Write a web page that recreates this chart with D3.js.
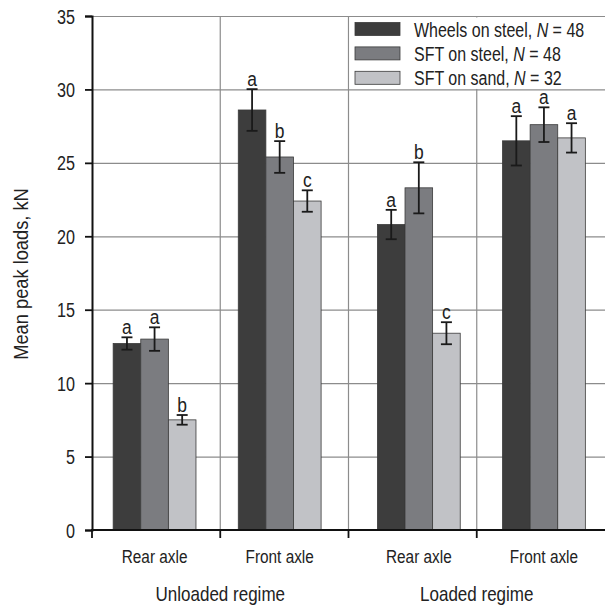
<!DOCTYPE html>
<html>
<head>
<meta charset="utf-8">
<script src="https://cdn.jsdelivr.net/npm/d3@7"></script>
<style>
  html, body { margin: 0; padding: 0; background: #fff; }
  svg { display: block; }
</style>
</head>
<body>
<svg id="chart" width="605" height="606"></svg>
<script>
// ---------------- data ----------------
const regimes = ["Unloaded regime", "Loaded regime"];
const axles = ["Rear axle", "Front axle"];
const seriesNames = ["Wheels on steel", "SFT on steel", "SFT on sand"];
const seriesN = [48, 48, 32];
// values in order: Unloaded rear, Unloaded front, Loaded rear, Loaded front
const wheelsSteel = [12.7, 28.6, 20.8, 26.5];
const sftSteel    = [13.0, 25.4, 23.3, 27.6];
const sftSand     = [7.5, 22.4, 13.4, 26.7];
const wheelsSteelErr = [0.42, 1.42, 1.0, 1.68];
const sftSteelErr    = [0.8, 1.08, 1.74, 1.18];
const sftSandErr     = [0.33, 0.73, 0.75, 1.0];
const wheelsSteelLetters = ["a", "a", "a", "a"];
const sftSteelLetters    = ["a", "b", "b", "a"];
const sftSandLetters     = ["b", "c", "c", "a"];
const yTicks = [0, 5, 10, 15, 20, 25, 30, 35];

// ---------------- build ----------------
const FONT = "'Liberation Sans', Arial, Helvetica, sans-serif";
const NARROW = 0.83;
const colors = ["#3d3d3d", "#7b7c80", "#c1c2c6"];
const svg = d3.select("#chart");

function place(sel, x, yy, sx) {
  sel.attr("x", 0).attr("y", 0)
     .attr("transform", `translate(${x},${yy}) scale(${sx},1)`);
  return sel;
}

const groups = [];
regimes.forEach((r, ri) => axles.forEach((a, ai) => groups.push({regime: r, axle: a, idx: ri * 2 + ai})));
const seriesVals = [wheelsSteel, sftSteel, sftSand];
const seriesErr = [wheelsSteelErr, sftSteelErr, sftSandErr];
const seriesLet = [wheelsSteelLetters, sftSteelLetters, sftSandLetters];

const axisX = 92, plotRight = 605;
const y = d3.scaleLinear().domain([0, 35]).range([530, 16]);
// bar placement scales
const xRegime = d3.scaleBand().domain(regimes).range([85, 613.5]).paddingInner(0).paddingOuter(0);
const xAxle = d3.scaleBand().domain(axles).range([0, xRegime.bandwidth()]).paddingInner(0).paddingOuter(0.056);
const xSeries = d3.scaleBand().domain(seriesNames).range([0, xAxle.bandwidth()]).paddingInner(0).paddingOuter(0.766);
const groupX = g => xRegime(g.regime) + xAxle(g.axle);
// axis-region scale (regime labels, separators, ticks)
const xAxisRegime = d3.scaleBand().domain(regimes).range([axisX, plotRight]).paddingInner(0).paddingOuter(0);

// horizontal gridlines
svg.append("g").selectAll("line").data(yTicks.filter(t => t > 0)).join("line")
  .attr("x1", axisX).attr("x2", plotRight)
  .attr("y1", d => y(d) + 0.5).attr("y2", d => y(d) + 0.5)
  .attr("stroke", "#8c8c8c").attr("stroke-width", 1.2);

// vertical separators (regime centres and regime boundary)
const seps = [];
regimes.forEach((r, i) => {
  if (i > 0) seps.push(xAxisRegime(r));
  seps.push(xAxisRegime(r) + xAxisRegime.bandwidth() / 2);
});
svg.append("g").selectAll("line").data(seps).join("line")
  .attr("x1", d => d).attr("x2", d => d)
  .attr("y1", y(35)).attr("y2", y(0))
  .attr("stroke", "#8c8c8c").attr("stroke-width", 1.2);

// legend background (covers gridlines in its area)
const legLeft = xAxisRegime(regimes[1]);
svg.append("rect").attr("x", legLeft + 1).attr("y", y(35) + 1.5)
  .attr("width", plotRight - legLeft).attr("height", y(30) - y(35) - 2)
  .attr("fill", "#fff");

// bars
const barData = [];
groups.forEach(g => seriesNames.forEach((s, si) => barData.push({
  g, s, si, v: seriesVals[si][g.idx], e: seriesErr[si][g.idx], l: seriesLet[si][g.idx]
})));

svg.append("g").selectAll("rect").data(barData).join("rect")
  .attr("x", d => groupX(d.g) + xSeries(d.s))
  .attr("width", xSeries.bandwidth())
  .attr("y", d => y(d.v))
  .attr("height", d => y(0) - y(d.v))
  .attr("fill", d => colors[d.si])
  .attr("stroke", "#3a3a3a").attr("stroke-width", 0.8);

// error bars
const eb = svg.append("g").attr("stroke", "#1a1a1a").attr("stroke-width", 1.8);
barData.forEach(d => {
  const cx = groupX(d.g) + xSeries(d.s) + xSeries.bandwidth() / 2;
  const cap = 5.5;
  eb.append("line").attr("x1", cx).attr("x2", cx).attr("y1", y(d.v + d.e)).attr("y2", y(d.v - d.e));
  eb.append("line").attr("x1", cx - cap).attr("x2", cx + cap).attr("y1", y(d.v + d.e)).attr("y2", y(d.v + d.e));
  eb.append("line").attr("x1", cx - cap).attr("x2", cx + cap).attr("y1", y(d.v - d.e)).attr("y2", y(d.v - d.e));
});

// significance letters
svg.append("g").selectAll("text").data(barData).join("text")
  .attr("text-anchor", "middle")
  .attr("font-family", FONT).attr("font-size", 21).attr("fill", "#222")
  .text(d => d.l)
  .each(function(d) {
    place(d3.select(this), groupX(d.g) + xSeries(d.s) + xSeries.bandwidth() / 2, y(d.v + d.e) - 3, NARROW);
  });

// y axis
const yAxis = d3.axisLeft(y).tickValues(yTicks).tickSize(7).tickPadding(9);
const gy = svg.append("g").attr("transform", `translate(${axisX},0)`).call(yAxis);
gy.select(".domain").attr("stroke", "#111").attr("stroke-width", 2);
gy.selectAll(".tick line").attr("stroke", "#111").attr("stroke-width", 1.8);
gy.selectAll(".tick text").attr("font-family", FONT).attr("font-size", 19.5).attr("fill", "#222")
  .attr("dy", null)
  .each(function() { place(d3.select(this), -17, 7, NARROW); });

// x axis line and ticks
svg.append("line").attr("x1", axisX - 1).attr("x2", plotRight).attr("y1", y(0)).attr("y2", y(0))
  .attr("stroke", "#111").attr("stroke-width", 2);
svg.append("g").selectAll("line").data([axisX].concat(seps)).join("line")
  .attr("x1", d => d).attr("x2", d => d).attr("y1", y(0)).attr("y2", y(0) + 8)
  .attr("stroke", "#111").attr("stroke-width", 1.8);

// axle labels
svg.append("g").selectAll("text").data(groups).join("text")
  .attr("text-anchor", "middle")
  .attr("font-family", FONT).attr("font-size", 18.5).attr("fill", "#222")
  .text(d => d.axle)
  .each(function(d) { place(d3.select(this), groupX(d) + xAxle.bandwidth() / 2, 563, NARROW); });

// regime labels
svg.append("g").selectAll("text").data(regimes).join("text")
  .attr("text-anchor", "middle")
  .attr("font-family", FONT).attr("font-size", 20.5).attr("fill", "#222")
  .text(d => d)
  .each(function(d) {
    place(d3.select(this), xAxisRegime(d) + xAxisRegime.bandwidth() / 2, 601, NARROW);
  });

// y title
svg.append("text")
  .attr("transform", `translate(28,274) rotate(-90) scale(0.87,1)`)
  .attr("text-anchor", "middle")
  .attr("font-family", FONT).attr("font-size", 21).attr("fill", "#222")
  .text("Mean peak loads, kN");

// legend
const leg = svg.append("g");
seriesNames.forEach((s, i) => {
  const yy = 22.5 + i * 24.4;
  leg.append("rect").attr("x", 355).attr("y", yy).attr("width", 45).attr("height", 13)
    .attr("fill", colors[i]).attr("stroke", "#3a3a3a").attr("stroke-width", 0.8);
  const t = leg.append("text")
    .attr("font-family", FONT).attr("font-size", 19.5).attr("fill", "#222");
  place(t, 414, yy + 14, NARROW - 0.01);
  t.append("tspan").text(s + ", ");
  t.append("tspan").attr("font-style", "italic").text("N");
  t.append("tspan").text(" = " + seriesN[i]);
});
</script>
</body>
</html>
